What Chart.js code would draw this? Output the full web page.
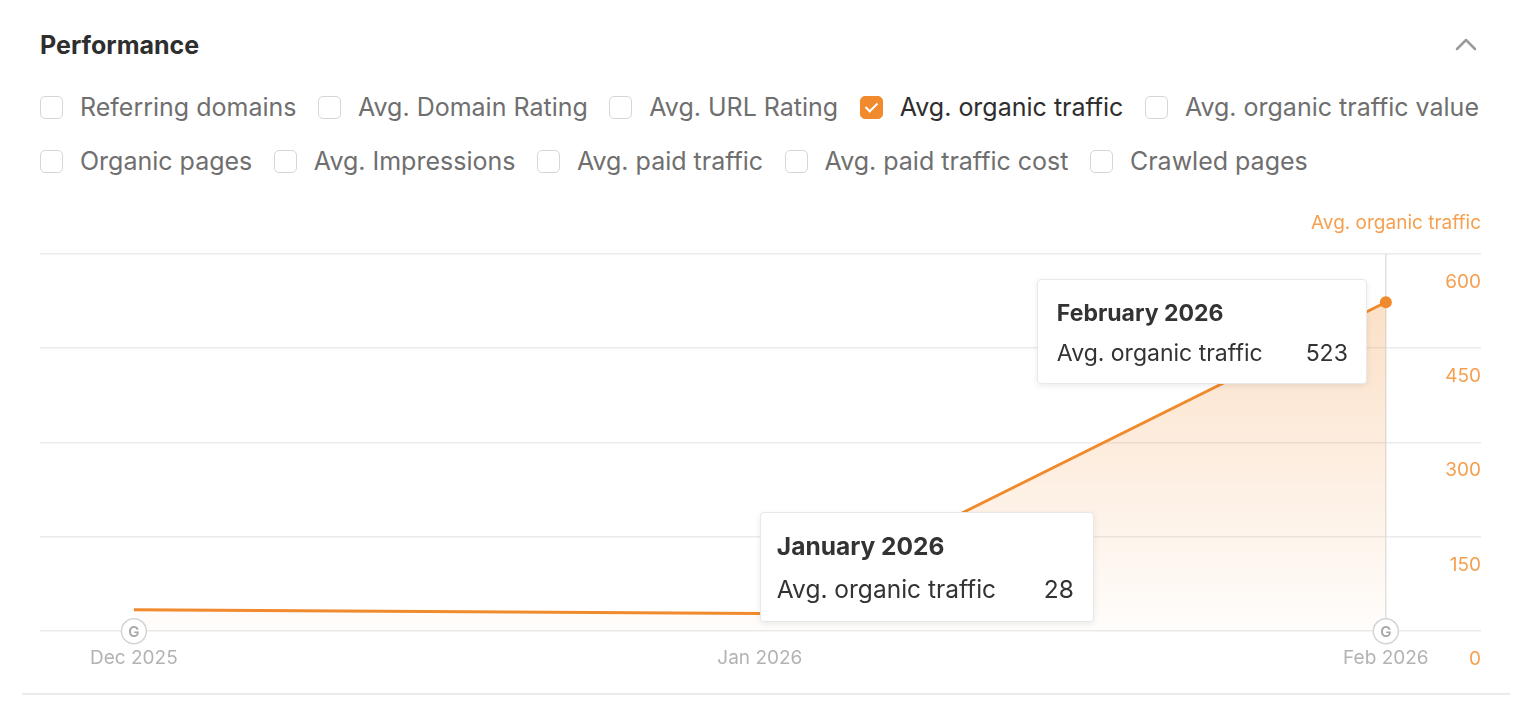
<!DOCTYPE html>
<html lang="en">
<head>
<meta charset="utf-8">
<title>Performance</title>
<script src="https://cdn.jsdelivr.net/npm/chart.js"></script>
<style>
  body { margin: 0; background: #fff; font-family: Inter, "Noto Sans", sans-serif; width: 1518px; height: 704px; overflow: hidden; position: relative; }
  .title { position: absolute; left: 40px; top: 29px; font-size: 25px; font-weight: 700; color: #2e2e2e; line-height: 32px; }
  .chevron { position: absolute; left: 1454px; top: 35px; }
  .metrics { position: absolute; left: 40px; top: 91px; width: 1478px; }
  .row { display: flex; align-items: center; height: 32px; margin-bottom: 22px; }
  .item { display: flex; align-items: center; margin-right: 21.5px; font-size: 25px; color: #6f6f6f; white-space: nowrap; }
  .box { width: 23px; height: 23px; border: 1.5px solid #d6d6d6; border-radius: 5px; margin-right: 17px; box-sizing: border-box; position: relative; flex: none; }
  .item.on { color: #2e2e2e; }
  .item.on .box { background: #f08a2c; border-color: #f08a2c; }
  .item.on .box::after { content: ""; position: absolute; left: 7px; top: 3px; width: 5px; height: 10px; border: solid #fff; border-width: 0 2.5px 2.5px 0; transform: rotate(45deg); }
  .chart-wrap { position: absolute; left: 0; top: 196px; width: 1518px; height: 482px; }
  .bottom-line { position: absolute; left: 22px; top: 693px; width: 1488px; height: 2px; background: #ebebeb; }
  .tip { position: absolute; background: #fff; border: 1px solid #e8e8e8; border-radius: 4px; box-shadow: 0 2px 6px rgba(0,0,0,0.08); box-sizing: border-box; padding: 19px 18px 0 19px; color: #333; }
  .tip .t { font-weight: 700; line-height: 28px; }
  .tip .r { display: flex; justify-content: space-between; line-height: 28px; }
  #tipFeb { font-size: 23px; }
  #tipFeb .r { margin-top: 12px; }
  #tipJan { font-size: 24.5px; padding-left: 16px; padding-right: 19px; }
  #tipJan .r { margin-top: 15px; }
</style>
</head>
<body>
  <div class="title">Performance</div>
  <svg class="chevron" width="24" height="18" viewBox="0 0 24 18"><polyline points="3,14 12,5 21,14" fill="none" stroke="#9b9b9b" stroke-width="2.5" stroke-linecap="round" stroke-linejoin="round"/></svg>
  <div class="metrics" id="metrics"></div>

  <div class="chart-wrap"><canvas id="perfChart"></canvas></div>
  <div class="bottom-line"></div>

  <div class="tip" id="tipJan" style="width:334px;height:110px;"></div>
  <div class="tip" id="tipFeb" style="width:330px;height:105px;"></div>

<script>
  // metric checkboxes
  const metricsRow1 = ['Referring domains', 'Avg. Domain Rating', 'Avg. URL Rating', 'Avg. organic traffic', 'Avg. organic traffic value'];
  const metricsRow2 = ['Organic pages', 'Avg. Impressions', 'Avg. paid traffic', 'Avg. paid traffic cost', 'Crawled pages'];
  const checkedMetric = 'Avg. organic traffic';

  // chart data
  const months = ['Dec 2025', 'Jan 2026', 'Feb 2026'];
  const monthNames = ['December 2025', 'January 2026', 'February 2026'];
  const organicTraffic = [34, 28, 523];
  const yTicks = [0, 150, 300, 450, 600];
  const googleUpdates = [0, 2];   // month indexes with a "G" marker
  const hoverIndex = 2;

  const ORANGE = '#f08a2c';
  const ORANGE_TEXT = '#f5a050';

  const metricsEl = document.getElementById('metrics');
  [metricsRow1, metricsRow2].forEach(function(list) {
    const row = document.createElement('div');
    row.className = 'row';
    list.forEach(function(name) {
      const item = document.createElement('div');
      item.className = 'item' + (name === checkedMetric ? ' on' : '');
      const box = document.createElement('span');
      box.className = 'box';
      item.appendChild(box);
      item.appendChild(document.createTextNode(name));
      row.appendChild(item);
    });
    metricsEl.appendChild(row);
  });

  function fillTip(id, i) {
    const el = document.getElementById(id);
    el.innerHTML = '<div class="t">' + monthNames[i] + '</div>' +
      '<div class="r"><span>' + checkedMetric + '</span><span>' + organicTraffic[i] + '</span></div>';
  }
  fillTip('tipJan', 1);
  fillTip('tipFeb', 2);

  // G markers, hover line and tooltip anchoring
  const extras = {
    id: 'extras',
    beforeDatasetsDraw(chart) {
      const ctx = chart.ctx;
      const area = chart.chartArea;
      const x = chart.scales.x.getPixelForValue(hoverIndex);
      ctx.save();
      ctx.strokeStyle = '#e2e2e2';
      ctx.lineWidth = 1.5;
      ctx.beginPath();
      ctx.moveTo(x, area.top);
      ctx.lineTo(x, area.bottom);
      ctx.stroke();
      ctx.restore();
    },
    afterDatasetsDraw(chart) {
      const ctx = chart.ctx;
      const y = chart.chartArea.bottom;
      googleUpdates.forEach(function(i) {
        const x = chart.scales.x.getPixelForValue(i);
        ctx.save();
        ctx.beginPath();
        ctx.arc(x, y, 12.5, 0, Math.PI * 2);
        ctx.fillStyle = '#fff';
        ctx.fill();
        ctx.strokeStyle = '#d4d4d4';
        ctx.lineWidth = 1.5;
        ctx.stroke();
        ctx.fillStyle = '#a8a8a8';
        ctx.font = '600 15px Inter';
        ctx.textAlign = 'center';
        ctx.textBaseline = 'middle';
        ctx.fillText('G', x, y + 1);
        ctx.restore();
      });
    },
    afterRender(chart) {
      const top0 = chart.canvas.getBoundingClientRect().top;
      const xs = chart.scales.x, ys = chart.scales.y;
      const feb = document.getElementById('tipFeb');
      feb.style.left = (xs.getPixelForValue(2) - 19 - 330) + 'px';
      feb.style.top = (top0 + ys.getPixelForValue(organicTraffic[2]) - 23) + 'px';
      const jan = document.getElementById('tipJan');
      jan.style.left = xs.getPixelForValue(1) + 'px';
      jan.style.top = (top0 + ys.getPixelForValue(organicTraffic[1]) - 102) + 'px';
    }
  };

  Chart.defaults.font.family = 'Inter';

  const canvas = document.getElementById('perfChart');
  new Chart(canvas.getContext('2d'), {
    type: 'line',
    data: {
      datasets: [{
        label: checkedMetric,
        data: organicTraffic.map(function(v, i) { return { x: i, y: v }; }),
        borderColor: ORANGE,
        borderWidth: 3,
        tension: 0,
        fill: 'origin',
        backgroundColor: function(c) {
          const area = c.chart.chartArea;
          if (!area) return 'rgba(240,138,44,0.2)';
          const g = c.chart.ctx.createLinearGradient(0, area.top, 0, area.bottom);
          g.addColorStop(0, 'rgba(240,138,44,0.30)');
          g.addColorStop(1, 'rgba(240,138,44,0.02)');
          return g;
        },
        pointRadius: function(c) { return c.dataIndex === hoverIndex ? 6 : 0; },
        pointBackgroundColor: ORANGE,
        pointBorderWidth: 0
      }]
    },
    options: {
      responsive: true,
      maintainAspectRatio: false,
      animation: false,
      layout: { padding: { left: 40, right: 37, top: 0, bottom: 0 } },
      plugins: {
        legend: { display: false },
        tooltip: { enabled: false },
        title: {
          display: true,
          text: checkedMetric,
          align: 'end',
          color: ORANGE_TEXT,
          font: { size: 19, weight: 400 },
          padding: { top: 16, bottom: 19 }
        }
      },
      scales: {
        x: {
          type: 'linear',
          min: -0.15,
          max: 2.152,
          afterBuildTicks: function(scale) {
            scale.ticks = months.map(function(m, i) { return { value: i }; });
          },
          ticks: {
            color: '#b3b3b3',
            font: { size: 19 },
            padding: 8,
            maxRotation: 0,
            callback: function(v) { return months[v]; }
          },
          grid: { display: false },
          border: { display: false }
        },
        y: {
          position: 'right',
          min: 0,
          max: 600,
          afterBuildTicks: function(scale) {
            scale.ticks = yTicks.map(function(v) { return { value: v }; });
          },
          ticks: {
            mirror: true,
            padding: 0,
            labelOffset: 28,
            color: ORANGE_TEXT,
            font: { size: 19 }
          },
          grid: { color: '#ebebeb', lineWidth: 1.5, drawTicks: false },
          border: { display: false }
        }
      }
    },
    plugins: [extras]
  });
</script>
</body>
</html>
